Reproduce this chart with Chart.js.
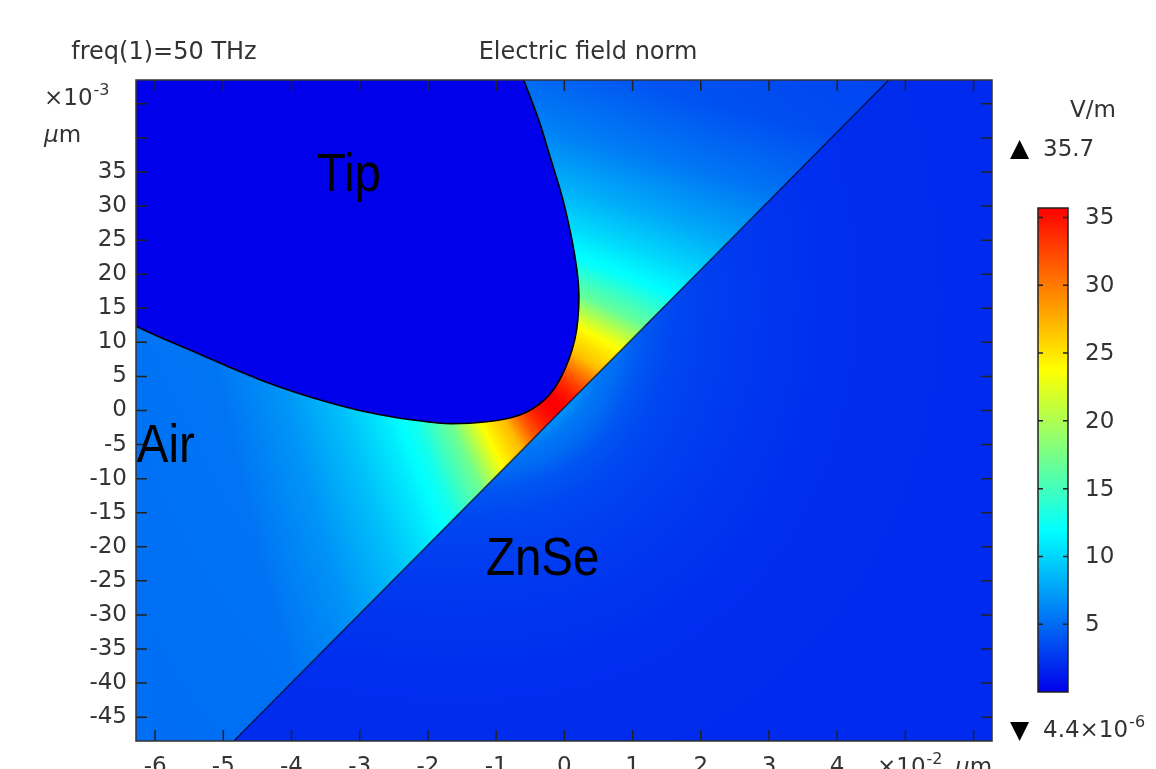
<!DOCTYPE html>
<html>
<head>
<meta charset="utf-8">
<script src="https://cdn.jsdelivr.net/npm/chart.js@4.4.1/dist/chart.umd.min.js"></script>
<style>
html,body{margin:0;padding:0;background:#fff;overflow:hidden}
canvas{display:block}
</style>
</head>
<body>
<canvas id="plot" width="1156" height="769"></canvas>
<script>
// axes: x in 1e-2 um, y in 1e-3 um
const xRange = [-6.28, 6.27];
const yRange = [-48.5, 48.5];
const xLabeled = [-6, -5, -4, -3, -2, -1, 0, 1, 2, 3, 4];
const yLabeled = [-45, -40, -35, -30, -25, -20, -15, -10, -5, 0, 5, 10, 15, 20, 25, 30, 35];

// tip outline (from top edge round the nose to left edge)
const tipX = [-0.839, -0.594, -0.374, -0.198, -0.022, 0.110, 0.183, 0.213, 0.198, 0.154, 0.066, -0.066, -0.213, -0.374, -0.565, -0.770, -0.990, -1.254, -1.518, -1.752, -1.987, -2.471, -2.969, -3.453, -3.937, -4.436, -4.919, -5.403, -5.902, -6.312, -7.0];
const tipY = [55, 48.46, 42.58, 36.86, 30.98, 25.11, 20.70, 17.03, 13.36, 10.43, 7.49, 4.55, 2.35, 0.88, -0.29, -1.03, -1.47, -1.76, -1.91, -1.91, -1.69, -1.03, -0.07, 1.17, 2.64, 4.41, 6.39, 8.52, 10.65, 12.48, 15.4];
const tipCorner = [-7.0, 55];

// ZnSe surface
const surfX = [-5.49, 5.40];
const surfY = [-55, 55];

// field in the air gap vs local gap width (nm), V/m
const gapNm = [2.8, 4, 5, 7, 10, 14, 18, 23, 31, 41, 60];
const hotField = [32, 27, 23, 20, 13, 8.5, 6.5, 4.5, 2.2, 0.5, 0];
// background field in air across x
const airBaseX = [-6.3, -4, -2, 0, 2, 4, 6.3];
const airBase = [5.2, 4.8, 4.3, 3.8, 3.3, 3.0, 3.0];
const znseBase = 2.0;
const znseEps = 6.5;

// colour range
const cbTicks = [5, 10, 15, 20, 25, 30, 35];
const cbMax = 35.7;
const cbMin = '4.4';
const cmapStops = [0, 1/3, 2/3, 1];
const cmapRGB = [[0,0,235],[0,255,255],[255,255,0],[255,0,0]];

const regionNames = ['Tip', 'Air', 'ZnSe'];
const regionX = [-3.63, -6.27, -1.15];
const regionY = [32.2, -7.5, -24.2];

function lookup(xs, ys, v) {
  if (v <= xs[0]) return ys[0];
  for (let i = 1; i < xs.length; i++) {
    if (v <= xs[i]) return ys[i-1] + (ys[i]-ys[i-1])*(v-xs[i-1])/(xs[i]-xs[i-1]);
  }
  return ys[ys.length-1];
}

function cmap(t) {
  t = Math.max(0, Math.min(1, t));
  let k = 1;
  while (k < cmapStops.length-1 && t > cmapStops[k]) k++;
  const f = (t - cmapStops[k-1])/(cmapStops[k]-cmapStops[k-1]);
  const a = cmapRGB[k-1], b = cmapRGB[k];
  return [a[0]+(b[0]-a[0])*f, a[1]+(b[1]-a[1])*f, a[2]+(b[2]-a[2])*f];
}

// sample the smoothed tip line exactly as chart.js draws it
function tipOutline(chart, x0, y0) {
  const meta = chart.getDatasetMeta(0);
  meta.dataset.updateControlPoints(chart.chartArea);
  const pts = meta.data;
  const out = [[pts[0].x - x0, pts[0].y - y0]];
  for (let i = 1; i < pts.length; i++) {
    const p = pts[i-1], q = pts[i];
    for (let s = 1; s <= 12; s++) {
      const t = s/12, u = 1 - t;
      const bx = u*u*u*p.x + 3*u*u*t*p.cp2x + 3*u*t*t*q.cp1x + t*t*t*q.x;
      const by = u*u*u*p.y + 3*u*u*t*p.cp2y + 3*u*t*t*q.cp1y + t*t*t*q.y;
      out.push([bx - x0, by - y0]);
    }
  }
  return out;
}

const fieldPlugin = {
  id: 'field',
  beforeDatasetsDraw(chart) {
    const {ctx, chartArea: a, scales: {x, y}} = chart;
    const x0 = Math.round(a.left), y0 = Math.round(a.top);
    const w = Math.round(a.right) - x0, h = Math.round(a.bottom) - y0;
    const img = ctx.createImageData(w, h);
    const tp = tipOutline(chart, x0, y0);
    const poly = tp.concat([[x.getPixelForValue(tipCorner[0]) - x0, y.getPixelForValue(tipCorner[1]) - y0]]);
    const s0 = [x.getPixelForValue(surfX[0]) - x0, y.getPixelForValue(surfY[0]) - y0];
    const s1 = [x.getPixelForValue(surfX[1]) - x0, y.getPixelForValue(surfY[1]) - y0];
    const ex = s1[0]-s0[0], ey = s1[1]-s0[1], el = Math.hypot(ex, ey);
    const nmPerPx = 10 / (x.getPixelForValue(1) - x.getPixelForValue(0));
    const airSide = Math.sign((0 - s0[0])*ey - (0 - s0[1])*ex);
    const n = tp.length;
    for (let j = 0; j < h; j++) {
      const py = j + 0.5;
      // crossings of this row with the tip polygon
      const xs = [];
      for (let k = 0, m = poly.length-1; k < poly.length; m = k++) {
        const p = poly[k], q = poly[m];
        if ((p[1] > py) !== (q[1] > py)) xs.push((q[0]-p[0])*(py-p[1])/(q[1]-p[1]) + p[0]);
      }
      for (let i = 0; i < w; i++) {
        const px = i + 0.5;
        const side = ((px - s0[0])*ey - (py - s0[1])*ex)/el;
        let inside = false;
        for (let k = 0; k < xs.length; k++) if (px < xs[k]) inside = !inside;
        let v = 0;
        if (!inside) {
          let d = 1e9;
          for (let k = 0; k < n-1; k++) {
            const ax = tp[k][0], ay = tp[k][1], bx = tp[k+1][0]-ax, by = tp[k+1][1]-ay;
            let t = ((px-ax)*bx + (py-ay)*by)/(bx*bx + by*by);
            t = t < 0 ? 0 : (t > 1 ? 1 : t);
            const qx = px-ax-bx*t, qy = py-ay-by*t;
            const dd = qx*qx + qy*qy;
            if (dd < d) d = dd;
          }
          d = Math.sqrt(d);
          if (side*airSide > 0) {
            v = lookup(airBaseX, airBase, x.getValueForPixel(px + x0)) + lookup(gapNm, hotField, (d + Math.abs(side))*nmPerPx);
          } else {
            v = znseBase + lookup(gapNm, hotField, d*nmPerPx)/znseEps;
          }
        }
        const c = cmap(v/cbMax);
        const o = (j*w + i)*4;
        img.data[o] = c[0]; img.data[o+1] = c[1]; img.data[o+2] = c[2]; img.data[o+3] = 255;
      }
    }
    ctx.putImageData(img, x0, y0);
  }
};

const framePlugin = {
  id: 'frame',
  afterDatasetsDraw(chart) {
    const {ctx, chartArea: a, scales: {x, y}} = chart;
    ctx.save();
    ctx.strokeStyle = '#222';
    ctx.lineWidth = 1.5;
    const tl = 11;
    ctx.beginPath();
    x.ticks.forEach(t => {
      const p = x.getPixelForValue(t.value);
      ctx.moveTo(p, a.bottom); ctx.lineTo(p, a.bottom - tl);
      ctx.moveTo(p, a.top); ctx.lineTo(p, a.top + tl);
    });
    y.ticks.forEach(t => {
      const p = y.getPixelForValue(t.value);
      ctx.moveTo(a.left, p); ctx.lineTo(a.left + tl, p);
      ctx.moveTo(a.right, p); ctx.lineTo(a.right - tl, p);
    });
    ctx.stroke();
    ctx.strokeStyle = '#333';
    ctx.strokeRect(a.left, a.top, a.right - a.left, a.bottom - a.top);
    ctx.restore();
  }
};

function supText(ctx, x, y, base, sup, size) {
  ctx.font = size + 'px "DejaVu Sans"';
  ctx.fillText(base, x, y);
  const w = ctx.measureText(base).width;
  ctx.font = Math.round(size*0.68) + 'px "DejaVu Sans"';
  ctx.fillText(sup, x + w + 1, y - size*0.42);
}

function microM(ctx, x, y, size) {
  ctx.font = 'italic ' + size + 'px "DejaVu Sans"';
  ctx.fillText('μ', x, y);
  const w = ctx.measureText('μ').width;
  ctx.font = size + 'px "DejaVu Sans"';
  ctx.fillText('m', x + w, y);
}

const textPlugin = {
  id: 'texts',
  afterDraw(chart) {
    const {ctx, scales: {x, y}} = chart;
    ctx.save();
    ctx.fillStyle = '#333';
    ctx.textBaseline = 'alphabetic';
    ctx.font = '24px "DejaVu Sans"';
    ctx.textAlign = 'center';
    ctx.fillText('freq(1)=50 THz', 164, 59);
    ctx.fillText('Electric field norm', 588, 59);
    ctx.textAlign = 'left';
    supText(ctx, 44, 105, '×10', '-3', 23);
    microM(ctx, 44, 142, 23);
    supText(ctx, 877, 774, '×10', '-2', 23);
    microM(ctx, 955, 774, 23);

    // colour bar
    const cbL = 1038, cbW = 30, cbT = 208, cbB = 692;
    const g = ctx.createLinearGradient(0, cbB, 0, cbT);
    cmapStops.forEach((s, i) => g.addColorStop(s, 'rgb(' + cmapRGB[i].join(',') + ')'));
    ctx.fillStyle = g;
    ctx.fillRect(cbL, cbT, cbW, cbB - cbT);
    ctx.strokeStyle = '#222';
    ctx.lineWidth = 1.5;
    ctx.strokeRect(cbL, cbT, cbW, cbB - cbT);
    ctx.fillStyle = '#333';
    ctx.font = '23px "DejaVu Sans"';
    ctx.textBaseline = 'middle';
    cbTicks.forEach(v => {
      const py = cbB - v/cbMax*(cbB - cbT);
      ctx.beginPath();
      ctx.moveTo(cbL, py); ctx.lineTo(cbL + 5, py);
      ctx.moveTo(cbL + cbW, py); ctx.lineTo(cbL + cbW - 5, py);
      ctx.stroke();
      ctx.fillText(String(v), 1085, py + 1);
    });
    ctx.textBaseline = 'alphabetic';
    ctx.fillText('V/m', 1070, 117);
    ctx.fillStyle = '#000';
    ctx.font = '25px "DejaVu Sans"';
    ctx.fillText('▲', 1010, 156);
    ctx.fillText('▼', 1010, 738);
    ctx.fillStyle = '#333';
    ctx.font = '23px "DejaVu Sans"';
    ctx.fillText(cbMax.toFixed(1), 1043, 156);
    supText(ctx, 1043, 737, cbMin + '×10', '-6', 23);

    // domain labels
    ctx.fillStyle = '#000';
    regionNames.forEach((n, i) => {
      ctx.save();
      ctx.translate(x.getPixelForValue(regionX[i]), y.getPixelForValue(regionY[i]));
      ctx.scale(0.88, 1);
      ctx.font = '54px "Liberation Sans"';
      ctx.fillText(n, 0, 0);
      ctx.restore();
    });
    ctx.restore();
  }
};

Chart.defaults.font.family = '"DejaVu Sans"';
Chart.defaults.font.size = 23;
Chart.defaults.color = '#333';

new Chart(document.getElementById('plot'), {
  type: 'scatter',
  data: {
    datasets: [{
      label: 'tip',
      data: tipX.map((v, i) => ({x: v, y: tipY[i]})),
      showLine: true,
      tension: 0.35,
      capBezierPoints: false,
      borderColor: '#000',
      borderWidth: 1.6,
      pointRadius: 0,
      clip: 0
    }, {
      label: 'surface',
      data: surfX.map((v, i) => ({x: v, y: surfY[i]})),
      showLine: true,
      borderColor: 'rgba(0,0,30,0.7)',
      borderWidth: 1.5,
      pointRadius: 0,
      clip: 0
    }]
  },
  options: {
    responsive: false,
    animation: false,
    devicePixelRatio: 1,
    layout: {padding: {left: 0, top: 80, right: 164, bottom: 0}},
    plugins: {legend: {display: false}, tooltip: {enabled: false}, title: {display: false}},
    events: [],
    scales: {
      x: {
        type: 'linear', min: xRange[0], max: xRange[1],
        grid: {display: false, drawTicks: false},
        border: {display: false},
        ticks: {stepSize: 1, includeBounds: false, autoSkip: false, maxRotation: 0, padding: 12,
          callback: v => xLabeled.includes(v) ? String(v) : ''},
        afterFit(s) { s.height = 28; }
      },
      y: {
        type: 'linear', min: yRange[0], max: yRange[1],
        grid: {display: false, drawTicks: false},
        border: {display: false},
        ticks: {stepSize: 5, includeBounds: false, autoSkip: false, padding: 9,
          callback: v => yLabeled.includes(v) ? String(v) : ''},
        afterFit(s) { s.width = 136; }
      }
    }
  },
  plugins: [fieldPlugin, framePlugin, textPlugin]
});
</script>
</body>
</html>
